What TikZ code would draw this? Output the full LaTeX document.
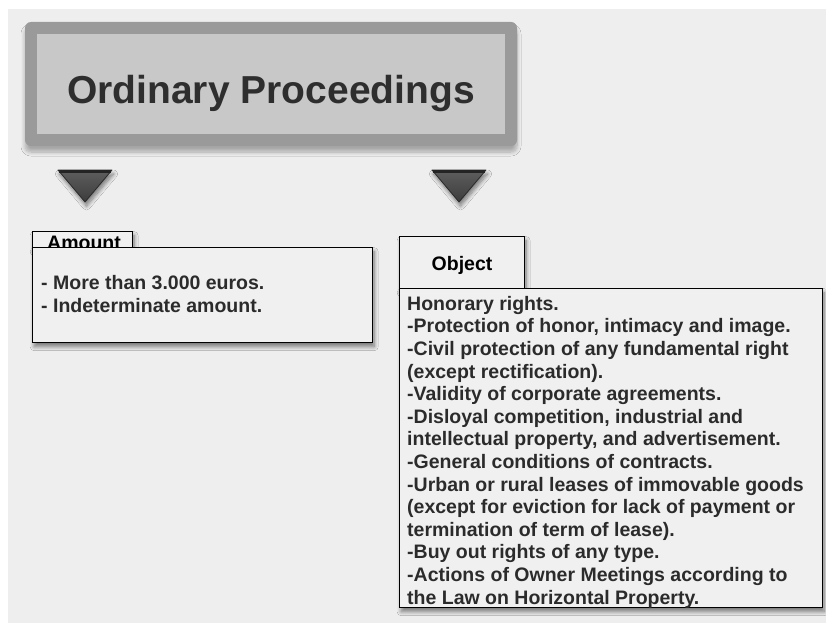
\documentclass[tikz,border=0pt]{standalone}
\usepackage{fontspec}
\setmainfont{Liberation Sans}
\usetikzlibrary{shadows.blur}
\definecolor{pagebg}{HTML}{EEEEEE}
\definecolor{boxbg}{HTML}{F0F0F0}
\definecolor{frameout}{HTML}{9A9A9A}
\definecolor{framein}{HTML}{C8C8C8}
\definecolor{titletext}{HTML}{2E2E2E}
\definecolor{bodytext}{HTML}{2B2B2B}
\definecolor{arrowtop}{HTML}{5E5E5E}
\definecolor{arrowbot}{HTML}{3C3C3C}
\tikzset{
  softshadow/.style={blur shadow={shadow xshift=1.5pt, shadow yshift=-4pt,
      shadow blur steps=8, shadow blur radius=4pt, shadow opacity=50}},
  tabbox/.style={draw=black, line width=1.2pt, fill=boxbg, inner sep=0pt, softshadow},
  listbox/.style={draw=black, line width=1.4pt, fill=boxbg, inner sep=0pt, softshadow},
  tablabel/.style={font=\fontsize{19.5}{22}\selectfont\bfseries, text=black, inner sep=0pt},
  listtext/.style={font=\fontsize{19.5}{22.6}\selectfont\bfseries, text=bodytext,
      align=left, inner sep=0pt},
  pointer/.style={draw=arrowbot!70!black, line width=0.8pt, line join=round,
      top color=arrowtop, bottom color=arrowbot, softshadow},
}
\newcommand{\titlefont}{\fontsize{39}{45}\selectfont\bfseries}
\begin{document}
\begin{tikzpicture}[x=1pt,y=-1pt]
\useasboundingbox (0,0) rectangle (826,623);
\fill[white] (0,0) rectangle (826,623);
\fill[pagebg] (8,9) rectangle (826,623);

% heading plate
\path[fill=frameout, rounded corners=6pt,
  blur shadow={shadow xshift=0pt, shadow yshift=-6pt, shadow blur steps=10,
  shadow blur radius=4pt, shadow opacity=30}] (25,22) rectangle (517,146);
\fill[framein] (37,34) rectangle (505,134);
\node (title) [anchor=base, text=titletext, inner sep=0pt, font=\titlefont] at (271,103) {Ordinary Proceedings};

% downward pointers
\path[pointer] (58,170) -- (112,170) -- (85,202) -- cycle;
\draw[arrowbot!60!black, line width=3pt] (59,171.5) -- (111,171.5);
\path[pointer] (432,170) -- (486,170) -- (459,202) -- cycle;
\draw[arrowbot!60!black, line width=3pt] (433,171.5) -- (485,171.5);

% amount panel
\node (amounttab) [tabbox, minimum width=100pt, minimum height=16pt, anchor=north west] at (32,231) {};
\node (amountlabel) [tablabel, anchor=base west] at (47,249) {Amount};
\node (amountbox) [listbox, minimum width=340pt, minimum height=95pt, anchor=north west] at (32,247) {};
\node (amounttext) [listtext, anchor=base west] at (41,289.5) {- More than 3.000 euros.};
\node (amounttext2) [listtext, anchor=base west] at (41,312.5) {- Indeterminate amount.};

% object panel
\node (objecttab) [tabbox, minimum width=125pt, minimum height=52pt, anchor=north west] at (399,236) {};
\node (objectlabel) [tablabel, anchor=base] at (462,270) {Object};
\node (objectbox) [listbox, minimum width=423pt, minimum height=319pt, anchor=north west] at (399,288) {};
\node (objecttext) [listtext, anchor=north west] at (407,296) {Honorary rights.\\
-Protection of honor, intimacy and image.\\
-Civil protection of any fundamental right\\
(except rectification).\\
-Validity of corporate agreements.\\
-Disloyal competition, industrial and\\
intellectual property, and advertisement.\\
-General conditions of contracts.\\
-Urban or rural leases of immovable goods\\
(except for eviction for lack of payment or\\
termination of term of lease).\\
-Buy out rights of any type.\\
-Actions of Owner Meetings according to\\
the Law on Horizontal Property.};
\end{tikzpicture}
\end{document}
